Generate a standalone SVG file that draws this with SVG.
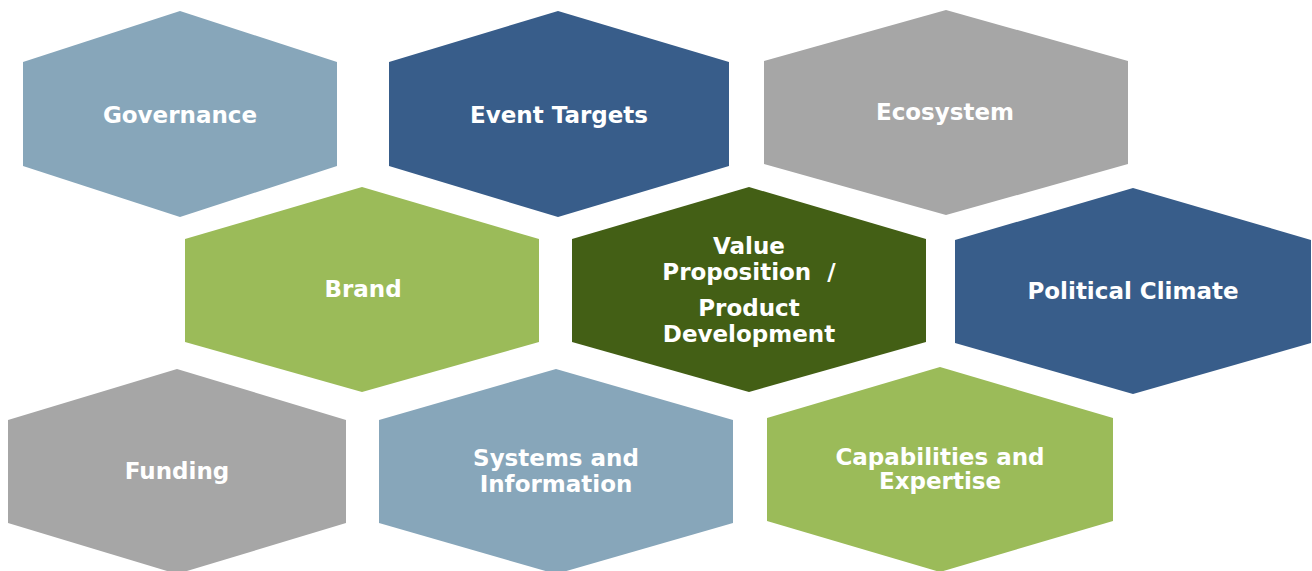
<svg xmlns="http://www.w3.org/2000/svg" width="1312" height="571" viewBox="0 0 1312 571">
  <style>
    .lblue { fill: #87A6BA; }
    .dblue { fill: #385D8A; }
    .grey { fill: #A6A6A6; }
    .green { fill: #9BBB59; }
    .dgreen { fill: #435F15; }
    text { font-family: "DejaVu Sans", Verdana, sans-serif; font-weight: bold; font-size: 23px; fill: #FFFFFF; text-anchor: middle; }
  </style>
  <rect width="1312" height="571" fill="#FFFFFF"/>

  <g id="governance">
    <polygon class="lblue" points="180,11 337,62 337,166 180,217 23,166 23,62"/>
    <text x="180" y="123">Governance</text>
  </g>
  <g id="event-targets">
    <polygon class="dblue" points="558,11 729,62 729,166 558,217 389,166 389,62"/>
    <text x="559" y="123">Event Targets</text>
  </g>
  <g id="ecosystem">
    <polygon class="grey" points="946,10 1128,61 1128,164 946,215 764,164 764,61"/>
    <text x="945" y="120">Ecosystem</text>
  </g>

  <g id="brand">
    <polygon class="green" points="362,187 539,239 539,342 362,392 185,342 185,239"/>
    <text x="363" y="297">Brand</text>
  </g>
  <g id="value-proposition">
    <polygon class="dgreen" points="749,187 926,239 926,342 749,392 572,342 572,239"/>
    <text x="749" y="254">Value</text>
    <text x="749" y="280" xml:space="preserve">Proposition  /</text>
    <text x="749" y="316">Product</text>
    <text x="749" y="342">Development</text>
  </g>
  <g id="political-climate">
    <polygon class="dblue" points="1133,188 1311,240 1311,343 1133,394 955,343 955,240"/>
    <text x="1133" y="299">Political Climate</text>
  </g>

  <g id="funding">
    <polygon class="grey" points="177,369 346,420 346,523 177,574 8,523 8,420"/>
    <text x="177" y="479">Funding</text>
  </g>
  <g id="systems-information">
    <polygon class="lblue" points="556,369 733,420 733,523 556,574 379,523 379,420"/>
    <text x="556" y="466">Systems and</text>
    <text x="556" y="492">Information</text>
  </g>
  <g id="capabilities-expertise">
    <polygon class="green" points="940,367 1113,418 1113,521 940,572 767,521 767,418"/>
    <text x="940" y="465">Capabilities and</text>
    <text x="940" y="489">Expertise</text>
  </g>

  <g id="connectors"/>
</svg>
